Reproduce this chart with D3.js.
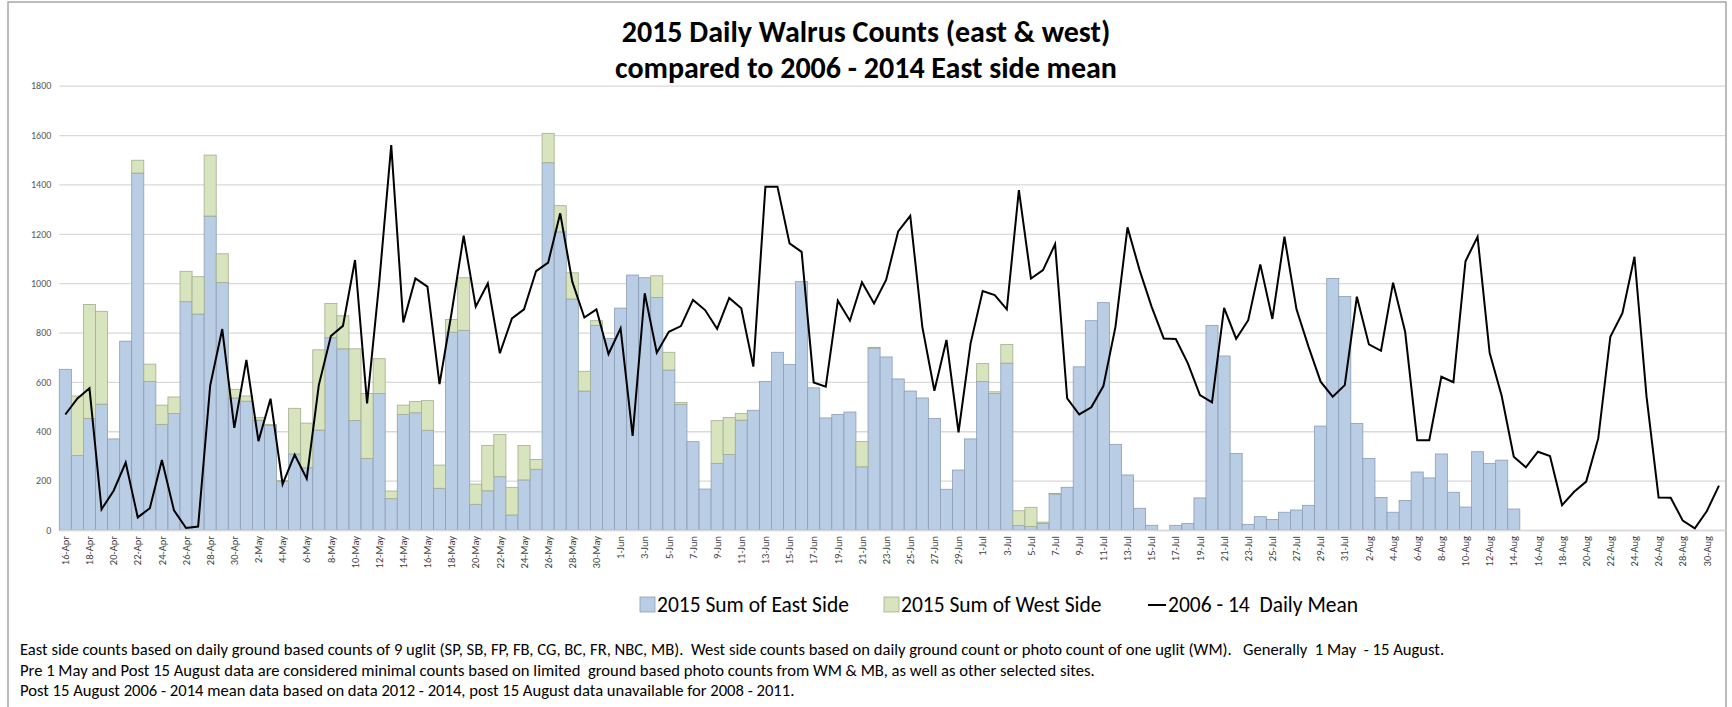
<!DOCTYPE html>
<html>
<head>
<meta charset="utf-8">
<script src="https://cdn.jsdelivr.net/npm/d3@7"></script>
<style>
  body { margin: 0; background: #fff; }
  svg { display: block; }
</style>
</head>
<body>
<svg id="chart" width="1732" height="707"></svg>
<script>
// days 16-Apr .. 31-Aug 2015
var days = d3.timeDay.range(new Date(2015, 3, 16), new Date(2015, 8, 1));
var categories = days.map(d3.timeFormat("%-d-%b"));

// 2015 east side sums (null = no count)
var eastSide = [651, 302, 452, 510, 369, 765, 1446, 602, 428, 472, 925, 875, 1272, 1003, 535,
  522, 445, 424, 197, 308, 252, 405, 779, 734, 444, 290, 553, 127, 468, 475, 404, 169, 801, 809,
  104, 159, 216, 61, 203, 246, 1488, 1208, 936, 563, 829, 776,
  899, 1033, 1022, 942, 648, 509, 358, 166, 270, 306, 445, 485, 602, 720, 671, 1006, 576, 454,
  468, 478, 256, 737, 701, 612, 563, 535, 452, 165, 243, 369,
  602, 553, 676, 18, 14, 27, 146, 173, 661, 848, 921, 347, 223, 88, 19, 0, 19, 26, 130, 829,
  705, 310, 23, 54, 43, 72, 81, 100, 421, 1019, 946,
  432, 290, 132, 72, 120, 235, 211, 308, 153, 93, 317, 270, 283, 85,
  null, null, null, null, null, null, null, null, null, null, null, null, null, null, null, null, null];

// 2015 west side sums
var westSide = [0, 241, 462, 376, 0, 0, 52, 70, 78, 67, 123, 151, 247, 116, 35,
  21, 11, 4, 3, 185, 181, 325, 139, 134, 290, 263, 141, 31, 38, 45, 120, 94, 52, 213,
  82, 183, 171, 112, 139, 40, 119, 106, 106, 80, 19, 0,
  0, 0, 0, 88, 72, 8, 0, 0, 173, 150, 27, 0, 0, 0, 0, 0, 0, 0,
  0, 0, 103, 3, 0, 0, 0, 0, 0, 0, 0, 0,
  72, 7, 76, 60, 78, 5, 2, 0, 0, 0, 0, 0, 0, 0, 0, 0, 0, 0, 0, 0,
  0, 0, 0, 0, 0, 0, 0, 0, 0, 0, 0,
  0, 0, 0, 0, 0, 0, 0, 0, 0, 0, 0, 0, 0, 0,
  null, null, null, null, null, null, null, null, null, null, null, null, null, null, null, null, null];

// 2006 - 14 daily mean (east side)
var dailyMean = [468, 533, 574, 84, 159, 273, 51, 88, 284, 80, 8, 14, 585, 814, 414,
  689, 360, 532, 186, 305, 208, 587, 786, 827, 1094, 513, 1000, 1559, 841, 1019, 986, 591, 880, 1192,
  905, 999, 716, 857, 894, 1049, 1083, 1283, 1006, 861, 894, 713,
  817, 381, 959, 718, 803, 826, 932, 891, 815, 940, 898, 662, 1391, 1391, 1161, 1127, 598, 581,
  929, 848, 1004, 918, 1013, 1210, 1273, 823, 564, 770, 396, 756,
  968, 952, 894, 1377, 1019, 1053, 1158, 533, 468, 497, 583, 823, 1226, 1053, 904, 776, 774, 675, 547, 517,
  900, 775, 850, 1076, 855, 1188, 894, 742, 601, 540, 587,
  945, 752, 726, 1002, 803, 364, 364, 621, 599, 1089, 1188, 718, 543, 297, 254, 317, 300, 101, 155,
  196, 371, 783, 878, 1107, 540, 132, 131, 38, 7, 77, 180];

var yTicks = [0, 200, 400, 600, 800, 1000, 1200, 1400, 1600, 1800];
var seriesNames = ["2015 Sum of East Side", "2015 Sum of West Side", "2006 - 14  Daily Mean"];
var titleLines = ["2015 Daily Walrus Counts (east & west)", "compared to 2006 - 2014 East side mean"];
var notes = [
  "East side counts based on daily ground based counts of 9 uglit (SP, SB, FP, FB, CG, BC, FR, NBC, MB).  West side counts based on daily ground count or photo count of one uglit (WM).   Generally  1 May  - 15 August.",
  "Pre 1 May and Post 15 August data are considered minimal counts based on limited  ground based photo counts from WM & MB, as well as other selected sites.",
  "Post 15 August 2006 - 2014 mean data based on data 2012 - 2014, post 15 August data unavailable for 2008 - 2011."
];

var FONT = "Carlito, 'Liberation Sans Narrow', 'DejaVu Sans Condensed', sans-serif";
var eastColor = "#b9cde5", westColor = "#d7e4bd";

var svg = d3.select("#chart");

// outer frame
svg.append("rect").attr("x", 8).attr("y", 2).attr("width", 1718).attr("height", 730)
  .attr("fill", "none").attr("stroke", "#a6a6a6").attr("stroke-width", 1.5);

var plotLeft = 59.3, plotRight = 1725, plotTop = 85.7, plotBottom = 530;

var x = d3.scaleBand().domain(categories).range([plotLeft, plotRight]).padding(0);
var y = d3.scaleLinear().domain([0, 1800]).range([plotBottom, plotTop]);

// gridlines + y labels
var yAxis = svg.append("g").attr("transform", "translate(" + plotLeft + ",0)")
  .call(d3.axisLeft(y).tickValues(yTicks).tickFormat(d3.format("d"))
    .tickSize(-(plotRight - plotLeft)).tickPadding(8));
yAxis.select(".domain").remove();
yAxis.selectAll("line").attr("stroke", "#d9d9d9").attr("stroke-width", 1.3);
yAxis.selectAll("text").attr("fill", "#595959").style("font-family", FONT).style("font-size", "10px");

// stacked bars
var table = categories.map(function(c, i) {
  return { cat: c, east: eastSide[i] || 0, west: westSide[i] || 0, has: eastSide[i] !== null };
});
var stack = d3.stack().keys(["east", "west"])(table);
var fills = [eastColor, westColor];
var strokes = ["#8c9db5", "#a3ae8e"];

stack.forEach(function(layer, k) {
  svg.append("g").selectAll("rect")
    .data(layer.filter(function(d) { return d.data.has && d[1] > d[0]; }))
    .join("rect")
    .attr("x", function(d) { return x(d.data.cat); })
    .attr("width", x.bandwidth())
    .attr("y", function(d) { return y(d[1]); })
    .attr("height", function(d) { return y(d[0]) - y(d[1]); })
    .attr("fill", fills[k])
    .attr("stroke", strokes[k])
    .attr("stroke-width", 0.8);
});

// x axis labels
var xAxis = svg.append("g").attr("transform", "translate(0," + plotBottom + ")")
  .call(d3.axisBottom(x).tickValues(categories.filter(function(d, i) { return i % 2 === 0; })).tickSize(0));
xAxis.select(".domain").attr("stroke", "#d9d9d9").attr("stroke-width", 1.3);
xAxis.selectAll("text")
  .attr("transform", "rotate(-90)")
  .attr("x", -6).attr("y", 0).attr("dy", "0.35em")
  .style("text-anchor", "end")
  .attr("fill", "#404040")
  .style("font-family", FONT).style("font-size", "10.5px");

// daily mean line
var line = d3.line()
  .x(function(d, i) { return x(categories[i]) + x.bandwidth() / 2; })
  .y(function(d) { return y(d); });
svg.append("path").datum(dailyMean)
  .attr("d", line).attr("fill", "none").attr("stroke", "#000").attr("stroke-width", 2)
  .attr("stroke-linejoin", "miter");

// title
svg.selectAll(".title").data(titleLines).join("text")
  .attr("class", "title")
  .attr("x", 866).attr("y", function(d, i) { return 42 + i * 36; })
  .attr("text-anchor", "middle")
  .style("font-family", FONT).style("font-size", "30px").style("font-weight", "bold")
  .text(function(d) { return d; });

// legend
var lg = svg.append("g").style("font-family", FONT).style("font-size", "21.5px");
lg.append("rect").attr("x", 640).attr("y", 597).attr("width", 15).attr("height", 15)
  .attr("fill", eastColor).attr("stroke", strokes[0]).attr("stroke-width", 0.8);
lg.append("text").attr("x", 657).attr("y", 612).text(seriesNames[0]);
lg.append("rect").attr("x", 884).attr("y", 597).attr("width", 15).attr("height", 15)
  .attr("fill", westColor).attr("stroke", strokes[1]).attr("stroke-width", 0.8);
lg.append("text").attr("x", 901).attr("y", 612).text(seriesNames[1]);
lg.append("line").attr("x1", 1148).attr("x2", 1166).attr("y1", 605).attr("y2", 605)
  .attr("stroke", "#000").attr("stroke-width", 2);
lg.append("text").attr("x", 1168).attr("y", 612).attr("xml:space", "preserve").text(seriesNames[2]);

// footnotes
svg.selectAll(".note").data(notes).join("text")
  .attr("class", "note")
  .attr("x", 20).attr("y", function(d, i) { return 655 + i * 20.5; })
  .attr("xml:space", "preserve")
  .style("white-space", "pre")
  .style("font-family", FONT).style("font-size", "16.6px")
  .text(function(d) { return d; });
</script>
</body>
</html>
